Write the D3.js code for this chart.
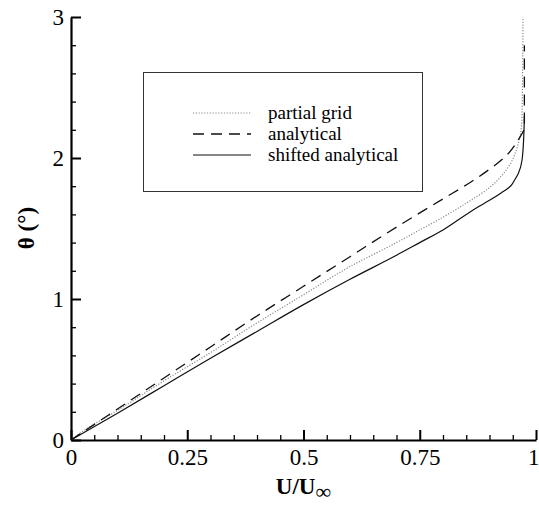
<!DOCTYPE html>
<html>
<head>
<meta charset="utf-8">
<script src="https://cdn.jsdelivr.net/npm/d3@7"></script>
<style>
  body { margin: 0; background: #fff; }
  svg { display: block; font-family: "Liberation Serif", "DejaVu Serif", serif; }
</style>
</head>
<body>
<div id="chart"></div>
<script>
// values: U/Uinf against theta (deg)
var partialU = [0, 0.02, 0.1, 0.2, 0.3, 0.4, 0.5, 0.6, 0.7, 0.75, 0.8, 0.85, 0.9, 0.925, 0.945, 0.958, 0.966, 0.970, 0.972];
var partialT = [0, 0.05, 0.21, 0.42, 0.62, 0.83, 1.03, 1.23, 1.40, 1.49, 1.58, 1.68, 1.79, 1.87, 1.96, 2.06, 2.16, 2.30, 3.0];

var analyticU = [0, 0.1, 0.2, 0.3, 0.4, 0.5, 0.6, 0.7, 0.8, 0.86, 0.9, 0.94, 0.962, 0.975, 0.975];
var analyticT = [0, 0.22, 0.44, 0.66, 0.88, 1.09, 1.30, 1.51, 1.71, 1.83, 1.92, 2.03, 2.13, 2.22, 2.80];

var shiftedU = [0, 0.1, 0.2, 0.3, 0.4, 0.5, 0.6, 0.7, 0.75, 0.8, 0.85, 0.876, 0.9, 0.925, 0.945, 0.954, 0.962, 0.970, 0.974, 0.975];
var shiftedT = [0, 0.19, 0.385, 0.58, 0.77, 0.96, 1.14, 1.31, 1.40, 1.49, 1.60, 1.655, 1.70, 1.752, 1.80, 1.844, 1.89, 1.986, 2.18, 2.30];

var xTicks = [0, 0.25, 0.5, 0.75, 1];
var yTicks = [0, 1, 2, 3];
var legendNames = ["partial grid", "analytical", "shifted analytical"];

var width = 539, height = 505;
var margin = {top: 17, right: 3, bottom: 65, left: 71};
var w = width - margin.left - margin.right,
    h = height - margin.top - margin.bottom;

var svg = d3.select("#chart")
    .append("svg")
    .attr("width", width)
    .attr("height", height);

var g = svg.append("g")
    .attr("transform", "translate(" + margin.left + "," + margin.top + ")");

var x = d3.scaleLinear().domain([0, 1]).range([0, w]);
var y = d3.scaleLinear().domain([0, 3]).range([h, 0]);

// minor ticks
var minorX = d3.range(0, 1.0001, 0.05).filter(function (d) { return Math.abs(d * 4 - Math.round(d * 4)) > 1e-6; });
var minorY = d3.range(0, 3.0001, 0.2).filter(function (d) { return Math.abs(d - Math.round(d)) > 1e-6; });

g.append("g")
    .attr("transform", "translate(0," + h + ")")
    .call(d3.axisBottom(x).tickValues(minorX).tickSize(-5).tickFormat(""))
    .call(function (s) { s.select(".domain").remove(); s.selectAll("line").attr("stroke-width", 1.3); });

g.append("g")
    .call(d3.axisLeft(y).tickValues(minorY).tickSize(-5).tickFormat(""))
    .call(function (s) { s.select(".domain").remove(); s.selectAll("line").attr("stroke-width", 1.3); });

// main axes
var xAxis = g.append("g")
    .attr("transform", "translate(0," + h + ")")
    .call(d3.axisBottom(x).tickValues(xTicks).tickSize(-10).tickSizeOuter(0).tickPadding(9)
        .tickFormat(function (d) { return String(d); }));

var yAxis = g.append("g")
    .call(d3.axisLeft(y).tickValues(yTicks).tickSize(-10).tickSizeOuter(0).tickPadding(7)
        .tickFormat(function (d) { return String(d); }));

[xAxis, yAxis].forEach(function (a) {
    a.select(".domain").attr("stroke-width", 2.2);
    a.selectAll(".tick line").attr("stroke-width", 2);
    a.selectAll("text")
        .attr("font-family", "Liberation Serif, serif")
        .attr("font-size", 23)
        .attr("fill", "#000");
});
yAxis.selectAll("text").attr("dy", "0.34em");
// last x label sits at the right edge; keep it inside the picture
xAxis.selectAll(".tick text").filter(function (d) { return d === 1; })
    .attr("text-anchor", "end").attr("x", 3);

// curves
var series = [
    {u: partialU, t: partialT, color: "#8a8a8a", dash: "1.2,1.6", sw: 1.2},
    {u: analyticU, t: analyticT, color: "#111", dash: "11,7", sw: 1.3},
    {u: shiftedU, t: shiftedT, color: "#111", dash: null, sw: 1.2}
];

var line = d3.line()
    .x(function (d) { return x(d[0]); })
    .y(function (d) { return y(d[1]); })
    .curve(d3.curveMonotoneY);

series.forEach(function (s) {
    var pts = s.u.map(function (u, i) { return [u, s.t[i]]; });
    g.append("path")
        .datum(pts)
        .attr("fill", "none")
        .attr("stroke", s.color)
        .attr("stroke-width", s.sw)
        .attr("stroke-dasharray", s.dash)
        .attr("d", line);
});

// legend
var lg = svg.append("g");
lg.append("rect")
    .attr("x", 143.5).attr("y", 72.5)
    .attr("width", 279).attr("height", 119)
    .attr("fill", "#fff")
    .attr("stroke", "#333")
    .attr("stroke-width", 1);

legendNames.forEach(function (name, i) {
    var ly = 113 + i * 21;
    lg.append("line")
        .attr("x1", 193).attr("x2", 251)
        .attr("y1", ly).attr("y2", ly)
        .attr("stroke", series[i].color)
        .attr("stroke-width", series[i].sw)
        .attr("stroke-dasharray", series[i].dash);
    lg.append("text")
        .attr("x", 268).attr("y", ly + 6)
        .attr("font-size", 19)
        .attr("fill", "#000")
        .text(name);
});

// axis titles
var xt = svg.append("text")
    .attr("x", margin.left + w / 2)
    .attr("y", 494)
    .attr("text-anchor", "middle")
    .attr("font-size", 23)
    .attr("font-weight", "bold");
xt.append("tspan").text("U/U");
xt.append("tspan").attr("dy", 5).attr("font-size", 22).attr("font-weight", "normal").text("\u221E");

svg.append("text")
    .attr("transform", "translate(34,228) rotate(-90)")
    .attr("text-anchor", "middle")
    .attr("font-size", 23)
    .attr("font-weight", "bold")
    .text("\u03B8 (\u00B0)");
</script>
</body>
</html>
